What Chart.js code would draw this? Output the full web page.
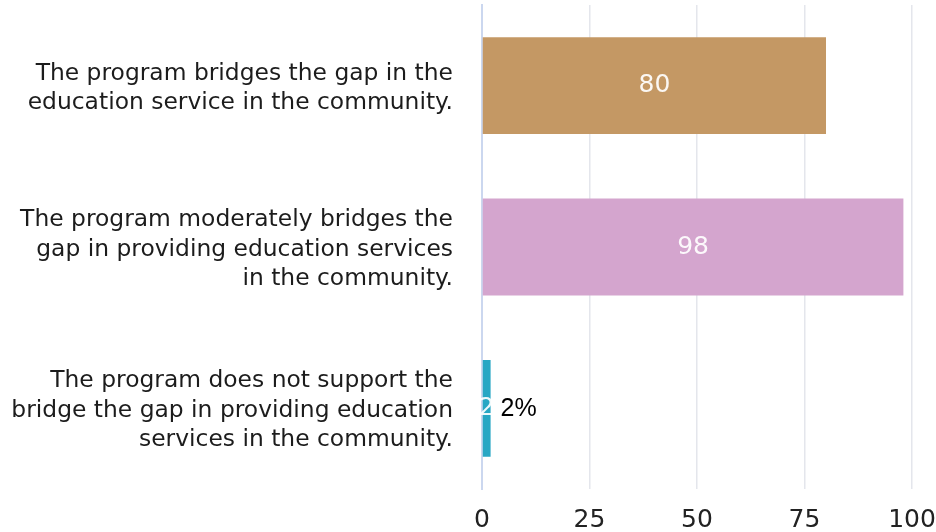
<!DOCTYPE html>
<html>
<head>
<meta charset="utf-8">
<script src="https://cdn.jsdelivr.net/npm/chart.js@4"></script>
<style>
  html, body { margin: 0; padding: 0; background: #fff; }
  canvas { display: block; }
</style>
</head>
<body>
<canvas id="gapChart" width="936" height="532"></canvas>
<script>
// Survey answers, one bar per statement (labels are wrapped by line)
const statements = [
  ['The program bridges the gap in the', 'education service in the community.'],
  ['The program moderately bridges the', 'gap in providing education services', 'in the community.'],
  ['The program does not support the', 'bridge the gap in providing education', 'services in the community.']
];
const responses = [80, 98, 2];
const sideLabels = ['', '', '2%'];
const barColors = ['#c49864', '#d4a5ce', '#28a7c4'];
const xTicks = [0, 25, 50, 75, 100];

// Writes each value in the middle of its bar, plus an optional note past the bar end
const barValueLabels = {
  id: 'barValueLabels',
  afterDatasetsDraw(chart) {
    const { ctx } = chart;
    const meta = chart.getDatasetMeta(0);
    ctx.save();
    meta.data.forEach((bar, i) => {
      ctx.textBaseline = 'middle';
      ctx.textAlign = 'center';
      ctx.fillStyle = 'rgba(255,255,255,0.92)';
      ctx.font = '25px "DejaVu Sans"';
      ctx.fillText(String(responses[i]), (bar.x + bar.base) / 2, bar.y);
      if (sideLabels[i]) {
        ctx.textAlign = 'left';
        ctx.fillStyle = '#000';
        ctx.font = '25px "Liberation Sans"';
        ctx.fillText(sideLabels[i], bar.x + 10, bar.y + 1);
      }
    });
    ctx.restore();
  }
};

new Chart(document.getElementById('gapChart'), {
  type: 'bar',
  data: {
    labels: statements,
    datasets: [{
      data: responses,
      backgroundColor: barColors,
      borderWidth: 0,
      categoryPercentage: 1,
      barPercentage: 0.6
    }]
  },
  options: {
    indexAxis: 'y',
    responsive: false,
    animation: false,
    layout: { padding: { top: 5, right: 0, left: 0, bottom: 0 } },
    plugins: {
      legend: { display: false },
      tooltip: { enabled: false }
    },
    scales: {
      x: {
        min: 0,
        max: 100,
        afterBuildTicks(scale) {
          scale.ticks = xTicks.map(v => ({ value: v }));
        },
        afterFit(scale) {
          scale.height = 43;
          scale.paddingLeft = 0;
          scale.paddingRight = 24;
        },
        grid: { color: '#e4e6ec', lineWidth: 1.5, drawTicks: false },
        border: { display: false },
        ticks: {
          padding: 16,
          color: '#222',
          font: { family: 'DejaVu Sans', size: 25 }
        }
      },
      y: {
        afterFit(scale) {
          scale.width = 482;
          scale.paddingTop = 0;
          scale.paddingBottom = 0;
        },
        grid: { display: false, drawTicks: false },
        border: { display: true, color: '#cbd7ef', width: 2 },
        ticks: {
          padding: 29,
          labelOffset: 2.5,
          color: '#1c1c1c',
          font: { family: 'DejaVu Sans', size: 23.4, lineHeight: 1.26 }
        }
      }
    }
  },
  plugins: [barValueLabels]
});
</script>
</body>
</html>
